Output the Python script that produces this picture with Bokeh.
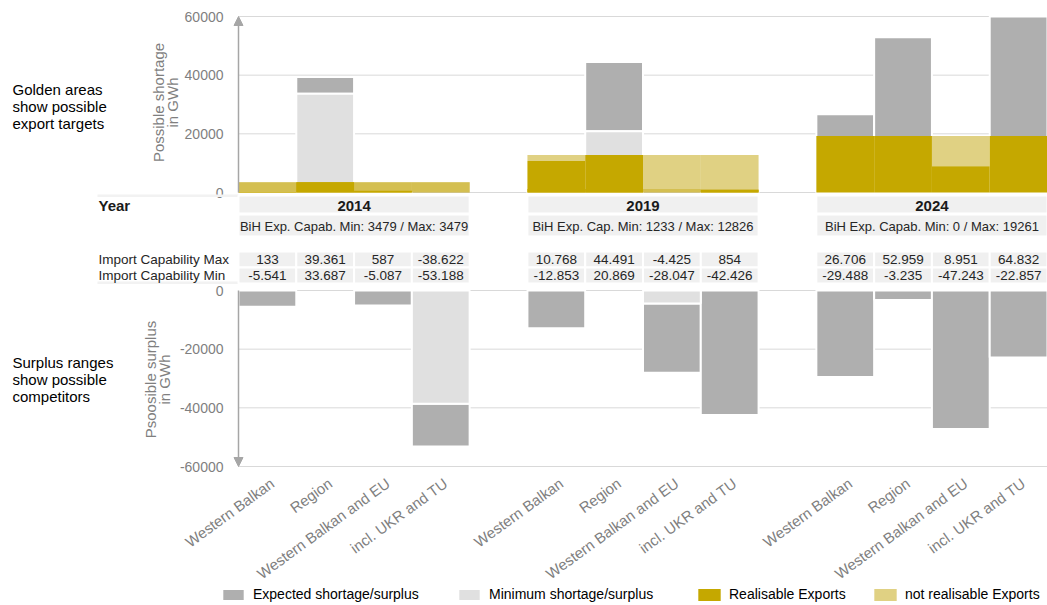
import math
from bokeh.plotting import figure
from bokeh.models import Range1d, Label, Arrow, NormalHead, Legend, LegendItem
from bokeh.core.properties import value
from bokeh.embed import file_html
from bokeh.resources import INLINE

# ---------------- data ----------------
years = ["2014", "2019", "2024"]
categories = ["Western Balkan", "Region", "Western Balkan and EU", "incl. UKR and TU"]
import_cap_max_2014 = [133, 39361, 587, -38622]
import_cap_max_2019 = [10768, 44491, -4425, 854]
import_cap_max_2024 = [26706, 52959, 8951, 64832]
import_cap_min_2014 = [-5541, 33687, -5087, -53188]
import_cap_min_2019 = [-12853, 20869, -28047, -42426]
import_cap_min_2024 = [-29488, -3235, -47243, -22857]
export_cap_min = [3479, 1233, 0]
export_cap_max = [3479, 12826, 19261]
export_cap_prefix = ["BiH Exp. Capab.", "BiH Exp. Cap.", "BiH Exp. Capab."]
top_ticks = [0, 20000, 40000, 60000]
bottom_ticks = [0, -20000, -40000, -60000]
legend_labels = ["Expected shortage/surplus", "Minimum shortage/surplus",
                 "Realisable Exports", "not realisable Exports"]
row_labels = ["Year", "Import Capability Max", "Import Capability Min"]
top_note = "Golden areas\nshow possible\nexport targets"
bottom_note = "Surplus ranges\nshow possible\ncompetitors"
top_axis_title = "Possible shortage\nin GWh"
bottom_axis_title = "Psoosible surplus\nin GWh"

import_max = [import_cap_max_2014, import_cap_max_2019, import_cap_max_2024]
import_min = [import_cap_min_2014, import_cap_min_2019, import_cap_min_2024]

# ---------------- styles ----------------
DARK = "#AFAFAF"
LIGHT = "#E0E0E0"
GOLD = "#C5A800"
GOLD_LIGHT = "#CCB230"
GOLD_LIGHT_ALPHA = 0.6
CELL = "#F0F0F0"
GRID = "#D9D9D9"
AXIS_TXT = "#7F7F7F"
TXT = "#262626"
FONT = "Liberation Sans"

# ---------------- layout (page pixel coordinates) ----------------
W, H = 1047, 605
PL, PR = 238, 1047          # plot area left/right
TOP0, TOPMAX = 192, 16      # y pixel of 0 and of top tick, upper chart
BOT0 = 290                  # y pixel of 0, lower chart
k = (TOP0 - TOPMAX) / float(top_ticks[-1])
NC = len(categories)
NSLOT = len(years) * (NC + 1) - 1
slot = (PR - PL) / NSLOT


def fmt(v):
    return f"{v:,}".replace(",", ".")


p = figure(width=W, height=H, output_backend="svg", toolbar_location=None,
           x_range=Range1d(0, W), y_range=Range1d(H, 0),
           x_axis_location=None, y_axis_location=None,
           min_border=0, min_border_left=0, min_border_right=0,
           min_border_top=0, min_border_bottom=0)
p.outline_line_color = None
p.background_fill_color = "white"
p.border_fill_color = "white"
p.grid.visible = False
p.extra_x_ranges = {"cat": Range1d(-PL / slot, NSLOT + (W - PR) / slot)}
p.extra_y_ranges = {"top": Range1d((TOP0 - H) / k, TOP0 / k),
                    "bot": Range1d((BOT0 - H) / k, BOT0 / k)}

# ---- grid lines and tick labels ----
for rng, ticks in (("top", top_ticks), ("bot", bottom_ticks)):
    p.segment(x0=[0] * len(ticks), x1=[NSLOT] * len(ticks), y0=ticks, y1=ticks,
              x_range_name="cat", y_range_name=rng, line_color=GRID, line_width=1)
    p.text(x=[PL - 15] * len(ticks), y=ticks, text=[str(t) for t in ticks], y_range_name=rng,
           text_font=value(FONT), text_font_size="14px", text_color=AXIS_TXT,
           text_align="right", text_baseline="middle")

# ---- gray bars ----
ymax, ymin = top_ticks[-1], bottom_ticks[-1]
segs = {(rng, kind): dict(x=[], bottom=[], top=[]) for rng in ("top", "bot") for kind in ("dark", "light")}


def add(rng, kind, x, b, t):
    d = segs[(rng, kind)]
    d["x"].append(x); d["bottom"].append(max(b, ymin)); d["top"].append(min(t, ymax))


for g in range(len(years)):
    for i in range(NC):
        x = g * (NC + 1) + i + 0.5
        mx, mn = import_max[g][i], import_min[g][i]
        if mn > 0:
            add("top", "light", x, 0, mn); add("top", "dark", x, mn, mx)
        elif mx > 0:
            add("top", "dark", x, 0, mx)
        if mx < 0:
            add("bot", "light", x, mx, 0); add("bot", "dark", x, mn, mx)
        elif mn < 0:
            add("bot", "dark", x, mn, 0)

rend = {}
for (rng, kind), d in segs.items():
    rend[(rng, kind)] = p.vbar(x=d["x"], bottom=d["bottom"], top=d["top"], width=1.0,
                               x_range_name="cat", y_range_name=rng,
                               fill_color=DARK if kind == "dark" else LIGHT,
                               line_color="white", line_width=2)

# ---- export bars (realisable / not realisable) ----
real = dict(x=[], bottom=[], top=[])
notreal = dict(x=[], bottom=[], top=[])
for g in range(len(years)):
    for cap in (export_cap_min[g], export_cap_max[g]):
        for i in range(NC):
            x = g * (NC + 1) + i + 0.5
            r = min(max(import_max[g][i], 0), cap)
            if r > 0:
                real["x"].append(x); real["bottom"].append(0); real["top"].append(r)
            if cap - r > 0:
                notreal["x"].append(x); notreal["bottom"].append(r); notreal["top"].append(cap)

r_notreal = p.vbar(x=notreal["x"], bottom=notreal["bottom"], top=notreal["top"], width=1.0,
                   x_range_name="cat", y_range_name="top", fill_color=GOLD_LIGHT,
                   fill_alpha=GOLD_LIGHT_ALPHA, line_color=None)
r_real = p.vbar(x=real["x"], bottom=real["bottom"], top=real["top"], width=1.0,
                x_range_name="cat", y_range_name="top", fill_color=GOLD, line_color=None)

# ---- axis arrows ----
for rng, end in (("top", ymax), ("bot", ymin)):
    p.add_layout(Arrow(x_start=0, y_start=0, x_end=0, y_end=end, x_range_name="cat",
                       y_range_name=rng, line_color="#A6A6A6", line_width=1.5,
                       end=NormalHead(size=9, fill_color="#A6A6A6", line_color="#A6A6A6")))

# ---- category labels ----
centers = [g * (NC + 1) + i + 0.5 for g in range(len(years)) for i in range(NC)]
p.text(x=centers, y=474, text=categories * len(years), x_range_name="cat",
       angle=math.radians(36), text_font=value(FONT), text_font_size="15px",
       text_color=AXIS_TXT, text_align="right", text_baseline="top")

# ---- table ----
g_left = [g * (NC + 1) for g in range(len(years))]
g_right = [g * (NC + 1) + NC for g in range(len(years))]
g_mid = [g * (NC + 1) + NC / 2 for g in range(len(years))]
p.quad(left=[97], right=[PL], top=194, bottom=196.5, fill_color="#F2F2F2", line_color=None)
p.quad(left=[97], right=[PL], top=281, bottom=283.5, fill_color="#F2F2F2", line_color=None)
p.quad(left=g_left, right=g_right, top=195, bottom=213, x_range_name="cat",
       fill_color=CELL, line_color="white", line_width=2)
p.quad(left=g_left, right=g_right, top=214, bottom=236, x_range_name="cat",
       fill_color=CELL, line_color="white", line_width=2)
p.text(x=g_mid, y=205, text=years, x_range_name="cat", text_font=value(FONT),
       text_font_style="bold", text_font_size="15px", text_align="center",
       text_baseline="middle", text_color="#1A1A1A")
bih = [f"{pre} Min: {a} / Max: {b}" for pre, a, b in zip(export_cap_prefix, export_cap_min, export_cap_max)]
p.text(x=g_mid, y=226, text=bih, x_range_name="cat", text_font=value(FONT),
       text_font_size="13px", text_align="center", text_baseline="middle", text_color=TXT)

for row_top, row_bot, vals in ((251, 267, import_max), (267, 283, import_min)):
    xs = [g * (NC + 1) + i for g in range(len(years)) for i in range(NC)]
    p.quad(left=xs, right=[x + 1 for x in xs], top=row_top, bottom=row_bot, x_range_name="cat",
           fill_color=CELL, line_color="white", line_width=2)
    p.text(x=[x + 0.5 for x in xs], y=(row_top + row_bot) / 2,
           text=[fmt(vals[g][i]) for g in range(len(years)) for i in range(NC)],
           x_range_name="cat", text_font=value(FONT), text_font_size="13.5px",
           text_align="center", text_baseline="middle", text_color=TXT)

# row labels
p.add_layout(Label(x=98, y=205, text=row_labels[0], text_font=FONT, text_font_style="bold",
                   text_font_size="15px", text_baseline="middle", text_color="#1A1A1A"))
p.add_layout(Label(x=98, y=259, text=row_labels[1], text_font=FONT, text_font_size="13.5px",
                   text_baseline="middle", text_color=TXT))
p.add_layout(Label(x=98, y=275, text=row_labels[2], text_font=FONT, text_font_size="13.5px",
                   text_baseline="middle", text_color=TXT))

# ---- side notes and axis titles ----
p.add_layout(Label(x=12, y=106, text=top_note, text_font=FONT, text_font_size="15px",
                   text_baseline="middle", text_line_height=0.98, text_color="black"))
p.add_layout(Label(x=12, y=379, text=bottom_note, text_font=FONT, text_font_size="15px",
                   text_baseline="middle", text_line_height=0.98, text_color="black"))
p.add_layout(Label(x=165, y=102, text=top_axis_title, angle=math.pi / 2, text_font=FONT,
                   text_font_size="15px", text_align="center", text_baseline="middle",
                   text_line_height=0.82, text_color=AXIS_TXT))
p.add_layout(Label(x=157, y=379, text=bottom_axis_title, angle=math.pi / 2, text_font=FONT,
                   text_font_size="15px", text_align="center", text_baseline="middle",
                   text_line_height=0.82, text_color=AXIS_TXT))

# ---- legends ----
leg_rend = [rend[("top", "dark")], rend[("top", "light")], r_real, r_notreal]
leg_x = [219, 455, 695, 871]
for lbl, r, lx in zip(legend_labels, leg_rend, leg_x):
    lg = Legend(items=[LegendItem(label=lbl, renderers=[r])], location=(lx, 3),
                orientation="horizontal", glyph_width=28, glyph_height=15, label_standoff=6,
                padding=0, margin=0, spacing=0, border_line_alpha=0, background_fill_alpha=0,
                label_text_font="'Liberation Sans Narrow', 'Liberation Sans', sans-serif",
                label_text_font_size="14px", label_text_color="black", label_height=15)
    p.add_layout(lg, "center")

open("out.html", "w").write(file_html(p, INLINE))
